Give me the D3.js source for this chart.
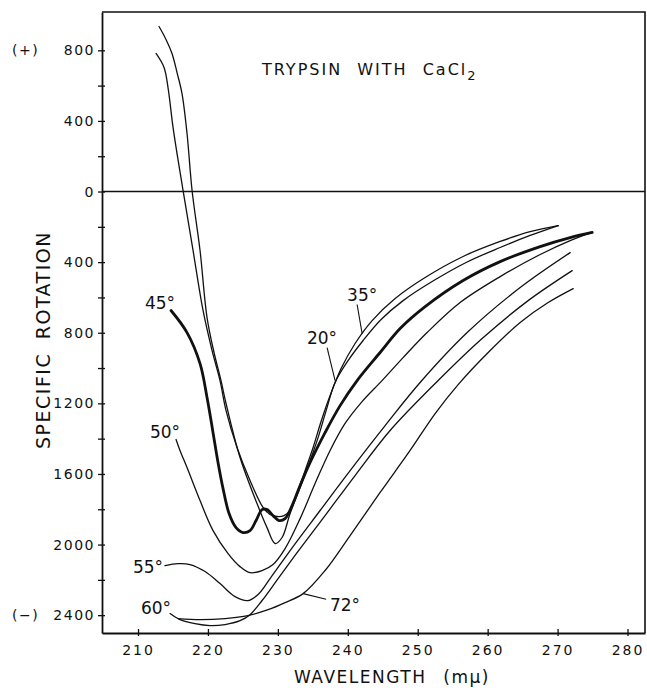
<!DOCTYPE html>
<html>
<head>
<meta charset="utf-8">
<script src="https://cdn.jsdelivr.net/npm/d3@7"></script>
<style>
  body { margin: 0; background: #fff; }
  svg { display: block; }
  text { font-family: "DejaVu Sans", sans-serif; fill: #111; }
</style>
</head>
<body>
<div id="chart"></div>
<script>
// wavelength (mu) and specific rotation pairs, one pair of arrays per temperature
const wl20  = [213.0, 213.86, 214.86, 215.58, 216.29, 217.01, 217.73, 218.87, 219.87, 220.87, 221.87, 222.59, 224.59, 227.02, 228.45, 229.6, 230.6, 231.75, 233.18, 234.61, 235.75, 236.9, 238.18, 240.04, 242.19, 244.76, 247.91, 252.06, 256.92, 261.79, 266.08, 270.09];
const rot20 = [935, 873, 782, 674, 555, 329, 6, -334, -714, -912, -1071, -1201, -1507, -1768, -1904, -1994, -1960, -1824, -1677, -1524, -1394, -1241, -1082, -958, -844, -725, -618, -510, -402, -317, -249, -193];

const wl35  = [212.58, 213.72, 214.29, 215.01, 215.58, 216.44, 217.87, 219.3, 220.59, 221.73, 222.59, 224.16, 226.02, 227.88, 228.88, 229.89, 230.89, 231.75, 232.75, 233.89, 235.04, 236.18, 237.47, 239.04, 241.04, 243.48, 246.77, 251.06, 256.49, 261.79, 266.08, 270.09];
const rot35 = [782, 703, 589, 363, 215, 6, -334, -674, -901, -1071, -1241, -1450, -1637, -1790, -1830, -1841, -1836, -1807, -1705, -1581, -1450, -1303, -1156, -1003, -861, -731, -606, -487, -368, -283, -227, -193];

const wl45  = [214.72, 217.01, 218.87, 219.87, 220.73, 221.44, 222.16, 223.02, 224.02, 225.02, 226.02, 226.88, 227.74, 228.45, 229.31, 230.17, 231.03, 232.03, 233.18, 234.61, 236.75, 238.9, 241.33, 244.62, 247.48, 251.06, 256.49, 261.79, 267.51, 271.8, 274.95];
const rot45 = [-674, -799, -975, -1167, -1366, -1535, -1683, -1824, -1904, -1932, -1921, -1864, -1802, -1802, -1836, -1864, -1853, -1779, -1666, -1535, -1366, -1213, -1071, -912, -776, -652, -504, -397, -312, -261, -232];

const wl50  = [215.44, 216.0, 217.01, 218.87, 220.73, 222.88, 224.59, 226.02, 227.74, 229.31, 231.03, 233.18, 235.32, 237.47, 239.61, 242.04, 244.76, 247.91, 251.34, 256.06, 261.79, 267.51, 271.8, 274.95];
const rot50 = [-1405, -1467, -1564, -1751, -1921, -2051, -2125, -2159, -2147, -2113, -2023, -1853, -1654, -1467, -1314, -1190, -1077, -941, -799, -629, -482, -357, -278, -232];

const wl55  = [213.86, 215.72, 217.44, 219.59, 221.73, 223.88, 225.74, 227.17, 228.88, 231.75, 236.04, 240.33, 245.34, 250.34, 257.07, 264.65, 271.8];
const rot55 = [-2119, -2108, -2113, -2153, -2221, -2295, -2317, -2283, -2193, -2034, -1807, -1581, -1326, -1082, -799, -544, -346];

const wl60  = [214.58, 216.0, 218.15, 220.3, 222.45, 224.59, 226.02, 227.74, 230.03, 233.18, 236.75, 241.04, 246.05, 252.92, 259.21, 265.79, 272.09];
const rot60 = [-2391, -2425, -2448, -2459, -2453, -2431, -2397, -2317, -2193, -2023, -1836, -1609, -1354, -1071, -833, -618, -448];

const wl72  = [215.72, 218.87, 222.45, 225.74, 228.6, 231.03, 233.61, 236.75, 240.33, 244.62, 248.91, 252.49, 255.78, 260.36, 264.65, 268.65, 272.23];
const rot72 = [-2419, -2425, -2419, -2402, -2369, -2329, -2278, -2147, -1949, -1705, -1467, -1258, -1094, -901, -742, -629, -550];

const xTicks = [210, 220, 230, 240, 250, 260, 270, 280];
const yTicks = d3.range(-2400, 801, 200);
const yLabelled = [800, 400, 0, -400, -800, -1200, -1600, -2000, -2400];

// temperature labels: text, anchor (wavelength, rotation), leader from/to (or null)
const tempLabels = [
    {t: "45°", at: [213.15, -663], lead: null},
    {t: "50°", at: [213.86, -1394], lead: null},
    {t: "55°", at: [211.43, -2159], lead: null},
    {t: "60°", at: [212.58, -2391], lead: null},
    {t: "35°", at: [242.05, -618], lead: [[241.33, -640], [242.05, -805]]},
    {t: "20°", at: [236.32, -861], lead: [[237.04, -884], [238.18, -1071]]},
    {t: "72°", at: [239.6, -2374], lead: [[236.9, -2310], [233.61, -2278]]}
];

const series = [
    {wl: wl20, rot: rot20, heavy: false},
    {wl: wl35, rot: rot35, heavy: false},
    {wl: wl45, rot: rot45, heavy: true},
    {wl: wl50, rot: rot50, heavy: false},
    {wl: wl55, rot: rot55, heavy: false},
    {wl: wl60, rot: rot60, heavy: false},
    {wl: wl72, rot: rot72, heavy: false}
];

const width = 647, height = 691;
const mLeft = 102, mRight = 645, mTop = 12, mBottom = 633;

const svg = d3.select("#chart").append("svg").attr("width", width).attr("height", height);

const x = d3.scaleLinear().domain([204.85, 282.5]).range([mLeft, mRight]);
const y = d3.scaleLinear().domain([-2501, 1017]).range([mBottom, mTop]);

// frame top + right
svg.append("path")
    .attr("d", `M${mLeft},${mTop}H${mRight}V${mBottom}`)
    .attr("fill", "none").attr("stroke", "#111").attr("stroke-width", 1.6);

// zero line
svg.append("line")
    .attr("x1", x.range()[0]).attr("x2", x.range()[1])
    .attr("y1", y(0)).attr("y2", y(0))
    .attr("stroke", "#111").attr("stroke-width", 1.6);

// y axis
const yAxis = svg.append("g")
    .attr("transform", `translate(${mLeft},0)`)
    .call(d3.axisLeft(y).tickValues(yTicks).tickSizeInner(4).tickSizeOuter(0).tickPadding(3)
        .tickFormat(d => yLabelled.includes(d) ? String(Math.abs(d)) : ""));
yAxis.select(".domain").attr("stroke", "#111").attr("stroke-width", 1.8);
yAxis.selectAll(".tick line").attr("x1", 3).attr("stroke", "#111").attr("stroke-width", 1.3);
yAxis.selectAll(".tick text")
    .style("font-family", "DejaVu Sans").style("font-size", "14px")
    .style("letter-spacing", "1.5px").attr("fill", "#111");

// x axis
const xAxis = svg.append("g")
    .attr("transform", `translate(0,${mBottom})`)
    .call(d3.axisBottom(x).tickValues(xTicks).tickSizeInner(3).tickSizeOuter(0).tickPadding(9));
xAxis.select(".domain").attr("stroke", "#111").attr("stroke-width", 1.8);
xAxis.selectAll(".tick line").attr("y1", -4).attr("stroke", "#111").attr("stroke-width", 1.3);
xAxis.selectAll(".tick text")
    .style("font-family", "DejaVu Sans").style("font-size", "14px")
    .style("letter-spacing", "2px").attr("fill", "#111");

// sign markers beside the y labels
svg.append("text").attr("x", 12).attr("y", y(800) + 5).style("font-size", "14px").style("letter-spacing", "1.5px").text("(+)");
svg.append("text").attr("x", 12).attr("y", y(-2400) + 5).style("font-size", "14px").style("letter-spacing", "1.5px").text("(−)");

// curves
const line = d3.line()
    .x(d => x(d[0]))
    .y(d => y(d[1]))
    .curve(d3.curveCatmullRom.alpha(0.5));

svg.append("g").selectAll("path")
    .data(series)
    .join("path")
    .attr("d", s => line(s.wl.map((w, i) => [w, s.rot[i]])))
    .attr("fill", "none")
    .attr("stroke", "#111")
    .attr("stroke-width", s => s.heavy ? 2.8 : 1.3)
    .attr("stroke-linejoin", "round")
    .attr("stroke-linecap", "round");

// temperature labels + leaders
const lab = svg.append("g");
lab.selectAll("text")
    .data(tempLabels)
    .join("text")
    .attr("x", d => x(d.at[0]))
    .attr("y", d => y(d.at[1]))
    .attr("text-anchor", "middle")
    .style("font-size", "17px")
    .text(d => d.t);
lab.selectAll("line")
    .data(tempLabels.filter(d => d.lead))
    .join("line")
    .attr("x1", d => x(d.lead[0][0])).attr("y1", d => y(d.lead[0][1]))
    .attr("x2", d => x(d.lead[1][0])).attr("y2", d => y(d.lead[1][1]))
    .attr("stroke", "#111").attr("stroke-width", 1.1);

// title
const title = svg.append("text")
    .attr("x", 262).attr("y", 75)
    .style("font-size", "16px").style("letter-spacing", "2px").style("word-spacing", "8px");
title.append("tspan").text("TRYPSIN WITH CaCl");
title.append("tspan").attr("dy", 5).style("font-size", "13px").text("2");

// axis titles
svg.append("text")
    .attr("transform", `translate(50,340) rotate(-90)`)
    .attr("text-anchor", "middle")
    .style("font-size", "19px").style("letter-spacing", "1.5px").style("word-spacing", "6px")
    .text("SPECIFIC ROTATION");

svg.append("text")
    .attr("x", 392).attr("y", 683)
    .attr("text-anchor", "middle")
    .style("font-size", "17px").style("letter-spacing", "1.5px").style("word-spacing", "10px")
    .text("WAVELENGTH (mμ)");
</script>
</body>
</html>
